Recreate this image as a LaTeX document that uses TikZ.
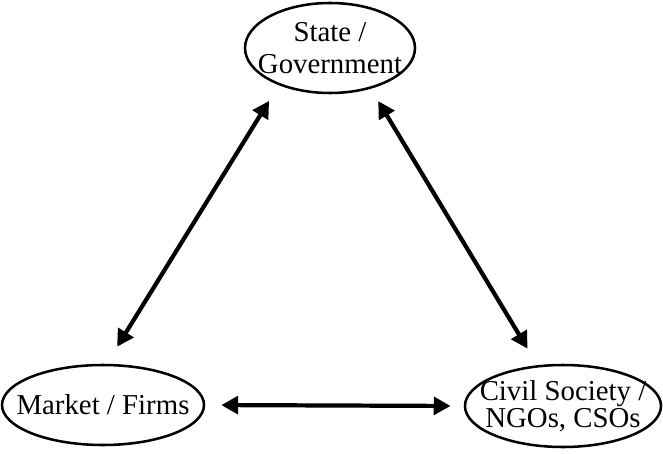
\documentclass[tikz,border=0pt]{standalone}
\usepackage{fontspec}
\setmainfont{Liberation Serif}
\usetikzlibrary{arrows.meta, shapes.geometric}
\tikzset{
  >={Triangle[width=4.4mm,length=4.2mm]},
  actor/.style = {ellipse, draw=black, line width=1.8pt, inner sep=-3cm,
                  align=center, font=\fontsize{20.5}{23}\selectfont},
  link/.style = {<->, line width=3pt},
}

\begin{document}
\begin{tikzpicture}
  \useasboundingbox (0,0) rectangle (16.575,-11.35);

  % three sectors
  \node (state) [actor, minimum width=4.25cm, minimum height=2.25cm] at (8.25,-1.2) {State /\\Government};
  \node (market) [actor, minimum width=5.05cm, minimum height=2cm] at (2.575,-10.125) {Market / Firms};
  \node (civil) [actor, minimum width=4.9cm, minimum height=2.05cm] at (14.075,-10.15) {Civil Society /\\[-4pt]NGOs, CSOs};

  \draw[link, shorten <=4.6mm, shorten >=5mm] (state.216) -- (market.85);
  \draw[link, shorten <=3.6mm, shorten >=4.8mm] (state.315.6) -- (civil.122.4);
  \draw[link, shorten <=4mm, shorten >=3.3mm] (market.east) -- (civil.west);
\end{tikzpicture}
\end{document}
